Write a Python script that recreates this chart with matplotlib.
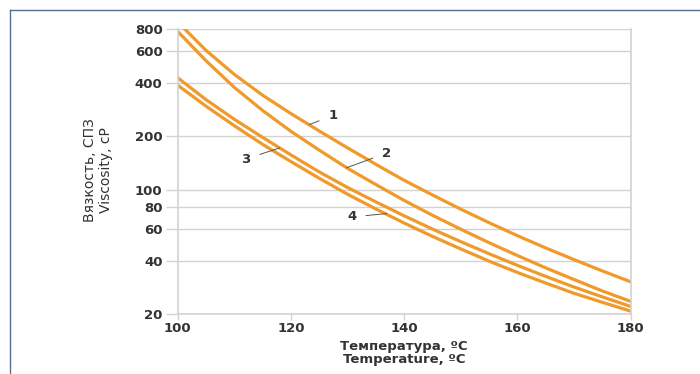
import numpy as np
import matplotlib.pyplot as plt
from matplotlib.lines import Line2D

# данные (вязкость, сП)
temps = [100, 105, 110, 115, 120, 125, 130, 135, 140,
         145, 150, 155, 160, 165, 170, 175, 180]
visc_1 = [877, 607, 445, 340, 268, 214, 172, 139, 113,
          93.5, 77.8, 65.3, 55.2, 47.1, 40.5, 35.0, 30.4]
visc_2 = [776, 531, 376, 279, 213, 167, 132, 107, 87.1,
          71.9, 60.0, 50.4, 42.7, 36.4, 31.3, 27.0, 23.6]
visc_3 = [426, 321, 249, 197, 157, 126, 103, 85.5, 71.4,
          60.1, 51.1, 43.7, 37.6, 32.6, 28.4, 25.0, 22.1]
visc_4 = [387, 295, 229, 180, 144, 116, 94.4, 78.0, 65.0,
          54.7, 46.5, 39.7, 34.3, 29.9, 26.2, 23.3, 20.8]

y_ticks = [20, 40, 60, 80, 100, 200, 400, 600, 800]
x_ticks = [100, 120, 140, 160, 180]

orange = '#ef9a2a'
grid_c = '#d2d2d2'
text_c = '#333333'

fig = plt.figure(figsize=(7, 3.74), dpi=100)
ax = fig.add_axes([0.254, 0.160, 0.647, 0.762])

for v in (visc_1, visc_2, visc_3, visc_4):
    ax.plot(temps, v, color=orange, lw=2.3, solid_joinstyle='round')

ax.set_yscale('log')
ax.set_xlim(100, 180)
ax.set_ylim(20, 800)
ax.set_yticks(y_ticks)
ax.set_yticklabels([str(t) for t in y_ticks])
ax.minorticks_off()
ax.set_xticks(x_ticks)

ax.grid(axis='y', color=grid_c, lw=1)
ax.set_axisbelow(True)
for side in ('left', 'bottom', 'right'):
    ax.spines[side].set_color(grid_c)
    ax.spines[side].set_linewidth(1.2)
ax.spines['top'].set_visible(False)

ax.tick_params(axis='y', length=9, color=grid_c, width=1, pad=2,
               labelsize=9.5, labelcolor=text_c)
ax.tick_params(axis='x', length=4, color=grid_c, width=1, pad=2,
               labelsize=9.5, labelcolor=text_c)
for lab in ax.get_xticklabels() + ax.get_yticklabels():
    lab.set_fontweight('bold')

# подписи кривых
labels = [('1', (123.3, 233), (127.4, 262)),
          ('2', (129.8, 133), (136.9, 161)),
          ('3', (118.0, 172), (112.0, 149)),
          ('4', (136.9, 73.5), (130.7, 70.4))]
for txt, xy, xyt in labels:
    ax.annotate(txt, xy=xy, xytext=xyt, fontsize=9.5, fontweight='bold',
                color=text_c, ha='center', va='center',
                arrowprops=dict(arrowstyle='-', color='#555555', lw=0.7,
                                shrinkA=5, shrinkB=0))

ax.set_xlabel('Температура, ºC\nTemperature, ºC', fontsize=9.5,
              color=text_c, fontweight='semibold', labelpad=3, linespacing=1.0)
fig.text(0.140, 0.545, 'Вязкость, СПЗ\nViscosity, cP', rotation=90,
         ha='center', va='center', fontsize=10, color=text_c,
         family=['Liberation Sans Narrow', 'DejaVu Sans Condensed', 'DejaVu Sans'],
         linespacing=1.15)

# рамка
frame_c = '#5a6f8c'
fig.add_artist(Line2D([10 / 700, 1], [1 - 10 / 374, 1 - 10 / 374],
                      transform=fig.transFigure, color=frame_c, lw=1))
fig.add_artist(Line2D([10 / 700, 10 / 700], [0, 1 - 10 / 374],
                      transform=fig.transFigure, color=frame_c, lw=1))

fig.savefig('out.png', dpi=100)
